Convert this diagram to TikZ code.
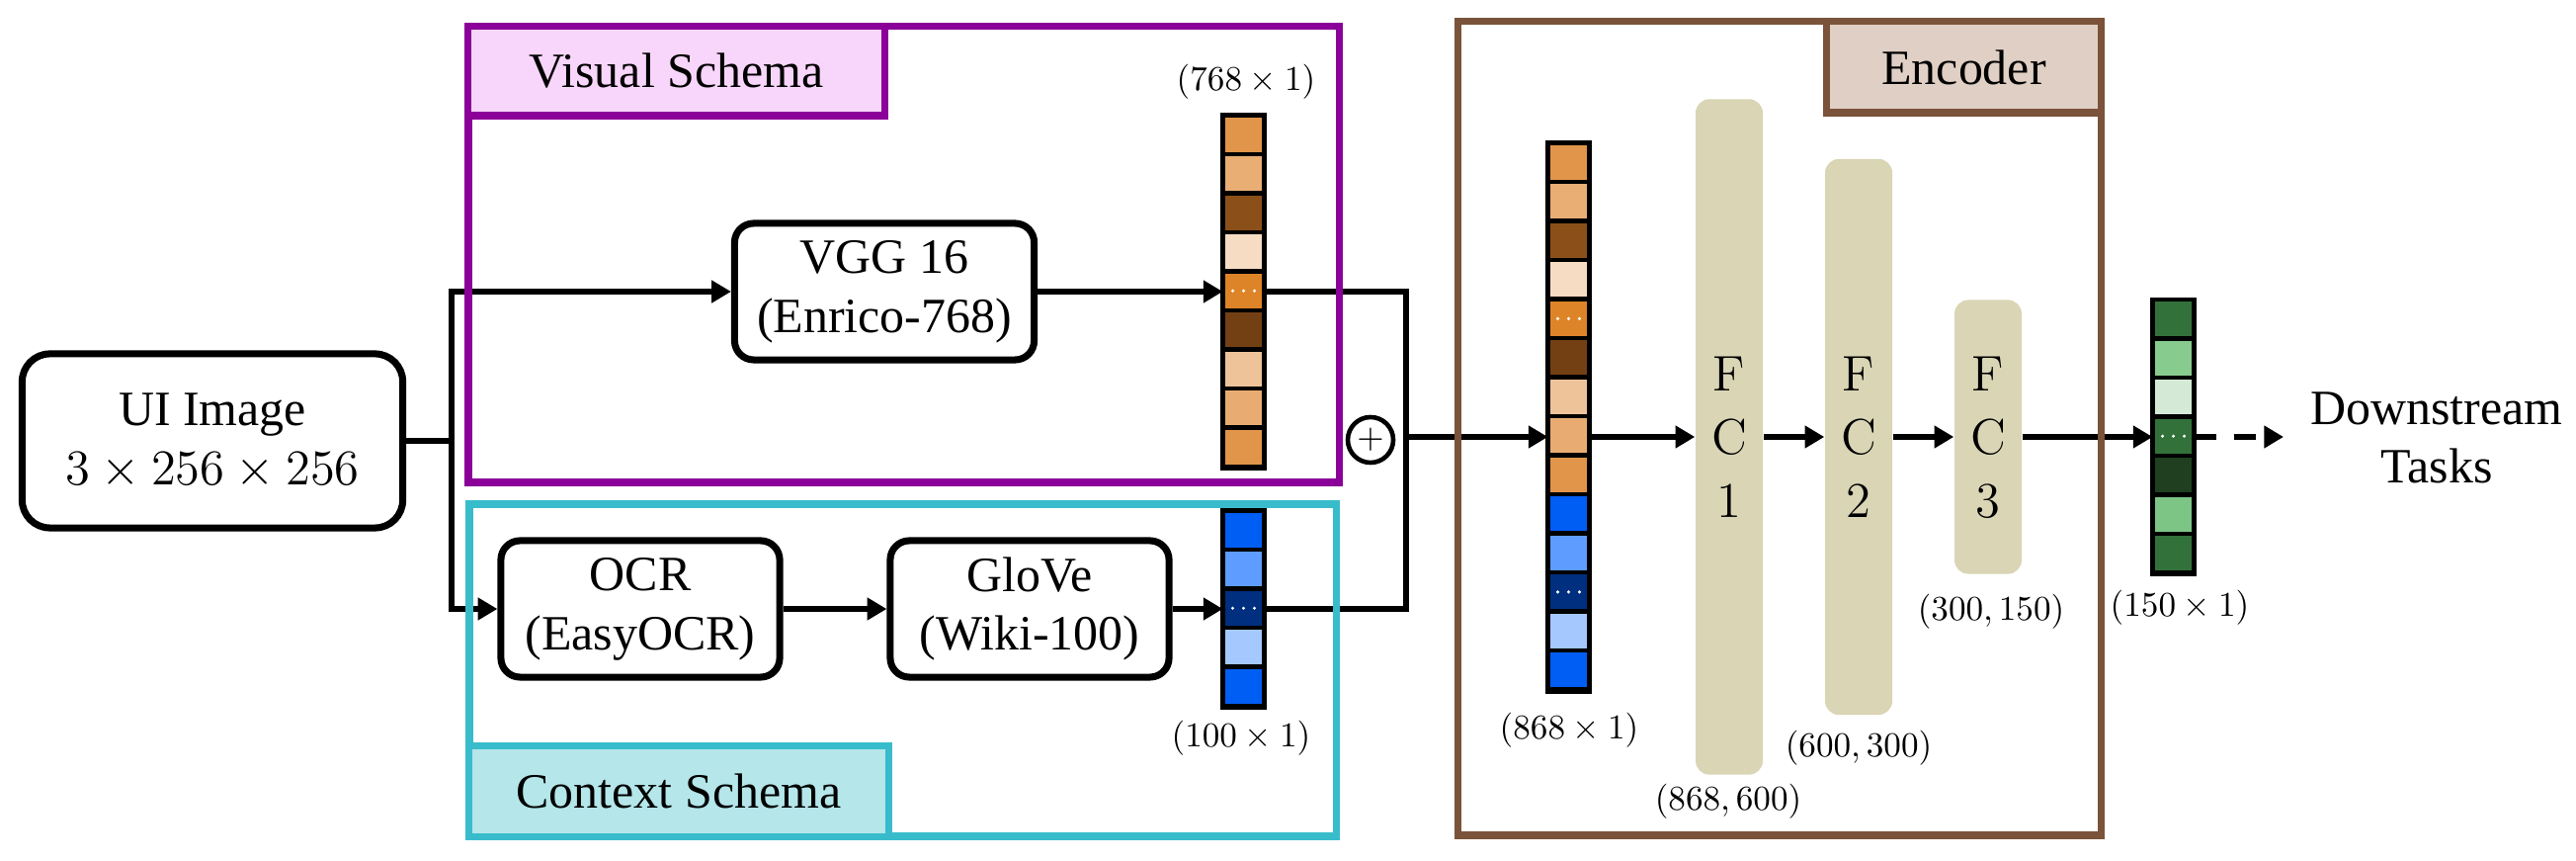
\documentclass[tikz,border=0pt]{standalone}
\usepackage[no-math]{fontspec}
\setmainfont{Liberation Serif}
\usetikzlibrary{calc}
\usetikzlibrary{arrows.meta}

\definecolor{vispurple}{RGB}{139,0,153}
\definecolor{vispink}{RGB}{248,213,250}
\definecolor{ctxcyan}{RGB}{56,188,203}
\definecolor{ctxfill}{RGB}{180,230,234}
\definecolor{encbrown}{RGB}{122,83,58}
\definecolor{encfill}{RGB}{224,207,196}
\definecolor{fcfill}{RGB}{217,213,181}
% cell colours
\definecolor{o1}{HTML}{E0954A}
\definecolor{o2}{HTML}{E8AE74}
\definecolor{o3}{HTML}{8B5019}
\definecolor{o4}{HTML}{F5DCC3}
\definecolor{o5}{HTML}{DE8428}
\definecolor{o6}{HTML}{734014}
\definecolor{o7}{HTML}{EEC39A}
\definecolor{o8}{HTML}{E8AC72}
\definecolor{b1}{HTML}{005EF5}
\definecolor{b2}{HTML}{5E9CFF}
\definecolor{b3}{HTML}{002F7F}
\definecolor{b4}{HTML}{A5C8FF}
\definecolor{g1}{HTML}{33713A}
\definecolor{g2}{HTML}{88CB8E}
\definecolor{g3}{HTML}{D4EAD6}
\definecolor{g5}{HTML}{1F3F20}
\definecolor{g6}{HTML}{7DC585}

\tikzset{
  conn/.style={line width=1.7pt},
  blk/.style={draw, line width=2pt, rounded corners=5.5pt, minimum height=1.38cm,
    align=center, inner sep=0, font=\fontsize{14.2}{17}\selectfont},
  fc/.style={fill=fcfill, rounded corners=4pt, minimum width=0.68cm, inner sep=0,
    align=center, font=\fontsize{15}{18.2}\selectfont},
  title/.style={line width=2pt, inner sep=0, font=\fontsize{14.2}{17}\selectfont},
  dim/.style={inner sep=0, font=\fontsize{10}{11}\selectfont},
  vecbox/.style={inner sep=0, minimum width=0.405cm},
  vecline/.style={line width=1.3pt},
}

% feature vector: name, centre, cell colours (top to bottom), cells with dots
\newcommand{\featvec}[4]{%
  \foreach \col [count=\i] in {#3} {\xdef\ncells{\i}}
  \node[vecbox, minimum height=\ncells*0.395cm] (#1) at (#2) {};
  \foreach \col [count=\i] in {#3}
    \fill[fill=\col] ($(#1.north west)+(0,\i*39.5-39.5)$) rectangle ($(#1.north east)+(0,\i*39.5)$);
  \foreach \i in {#4}
    \foreach \d in {-11,0,11}
      \fill[white] ($(#1.north)+(\d,\i*39.5-19.75)$) circle (1.7);
  \foreach \col [count=\i] in {#3}
    \draw[vecline] ($(#1.north west)+(0,\i*39.5)$) -- ($(#1.north east)+(0,\i*39.5)$);
  \draw[vecline] (#1.north west) rectangle (#1.south east);
}

\begin{document}
\begin{tikzpicture}[x=0.01cm, y=-0.01cm, >={Triangle[length=5.6pt,width=6.2pt]}]
\useasboundingbox (0,0) rectangle (2607,871);

% input and extractors
\node[blk, rounded corners=8pt, minimum width=3.85cm, minimum height=1.76cm] (ui) at (215,446) {UI Image\\$3\times256\times256$};
\node[blk, minimum width=3.03cm] (vgg) at (895,295) {VGG 16\\(Enrico-768)};
\node[blk, minimum width=2.82cm] (ocr) at (648,616) {OCR\\(EasyOCR)};
\node[blk, minimum width=2.82cm] (glove) at (1042,616) {GloVe\\(Wiki-100)};

% vectors
\featvec{vis}{1258.5,295}{o1,o2,o3,o4,o5,o6,o7,o8,o1}{5}
\featvec{ctx}{1258.5,616}{b1,b2,b3,b4,b1}{3}
\featvec{cat}{1587.5,422}{o1,o2,o3,o4,o5,o6,o7,o8,o1,b1,b2,b3,b4,b1}{5,12}
\featvec{out}{2199.5,442}{g1,g2,g3,g1,g5,g6,g1}{4}

% encoder layers
\node[fc, minimum height=6.83cm] (fc1) at (1750,442) {$\mathrm{F}$\\$\mathrm{C}$\\$1$};
\node[fc, minimum height=5.62cm] (fc2) at (1881,442) {$\mathrm{F}$\\$\mathrm{C}$\\$2$};
\node[fc, minimum height=2.77cm] (fc3) at (2012,442) {$\mathrm{F}$\\$\mathrm{C}$\\$3$};

\node[draw, circle, line width=1.3pt, minimum size=0.46cm, inner sep=0, font=\fontsize{10}{10}\selectfont] (plus) at (1387,445) {$+$};
\node[align=center, inner sep=0, font=\fontsize{14.2}{17}\selectfont] (tasks) at (2466,443) {Downstream\\Tasks};

% sizes
\node[dim] (visdim) at (1261,83) {$(768\times1)$};
\node[dim] (ctxdim) at (1256,747) {$(100\times1)$};
\node[dim] (catdim) at (1588,739) {$(868\times1)$};
\node[dim] (fc1dim) at (1749,811) {$(868,600)$};
\node[dim] (fc2dim) at (1881,757) {$(600,300)$};
\node[dim] (fc3dim) at (2015,619) {$(300,150)$};
\node[dim] (outdim) at (2206,615) {$(150\times1)$};

% connectors
\coordinate (fork) at (457,446);
\coordinate (merge) at (1423,442);
\coordinate (tip) at (2311,442);
\draw[conn] (ui) -- (fork);
\draw[conn,->] (fork) |- (vgg);
\draw[conn,->] (fork) |- (ocr);
\draw[conn,->] (vgg) -- (vis);
\draw[conn,->] (ocr) -- (glove);
\draw[conn,->] (glove) -- (ctx);
\draw[conn] (vis) -| (merge);
\draw[conn] (ctx) -| (merge);
\draw[conn,->] (merge) -- (merge -| cat.west);
\draw[conn,->] (cat.east |- fc1) -- (fc1);
\draw[conn,->] (fc1) -- (fc2);
\draw[conn,->] (fc2) -- (fc3);
\draw[conn,->] (fc3) -- (out);
\draw[conn,->,dash pattern=on 6.3pt off 5.1pt] (out) -- (tip);

% schema frames
\draw[line width=2pt, vispurple] (474,27) rectangle (1355,488);
\node[title, draw=vispurple, fill=vispink, minimum width=4.21cm, minimum height=0.9cm] (vistitle) at (684.5,72) {Visual Schema};
\draw[line width=2pt, ctxcyan] (475,510) rectangle (1352,846);
\node[title, draw=ctxcyan, fill=ctxfill, minimum width=4.24cm, minimum height=0.91cm] (ctxtitle) at (687,800.5) {Context Schema};
\draw[line width=2pt, encbrown] (1475,22) rectangle (2126,845);
\node[title, draw=encbrown, fill=encfill, minimum width=2.77cm, minimum height=0.92cm] (enctitle) at (1987.5,68) {Encoder};
\end{tikzpicture}
\end{document}
